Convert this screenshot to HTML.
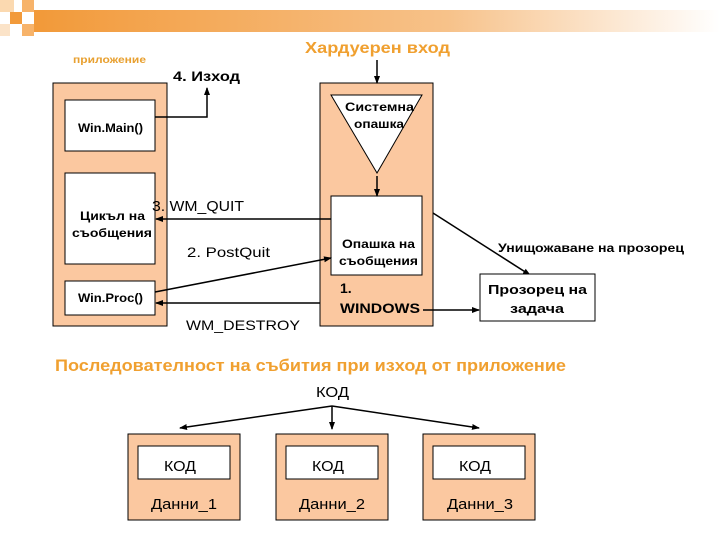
<!DOCTYPE html>
<html><head><meta charset="utf-8"><style>
body{margin:0;width:720px;height:540px;background:#fff;overflow:hidden}
text{font-family:"Liberation Sans","DejaVu Sans",sans-serif;font-weight:bold}
.n{font-weight:normal}
</style></head><body>
<svg width="720" height="540" viewBox="0 0 720 540">
<defs>
<linearGradient id="g" x1="0" x2="1"><stop offset="0" stop-color="#f29a3a"/><stop offset="0.6" stop-color="#f7c28a"/><stop offset="1" stop-color="#fff"/></linearGradient>
<marker id="a" markerWidth="8" markerHeight="8" refX="7" refY="4" orient="auto" markerUnits="userSpaceOnUse"><path d="M0,1 L8,4 L0,7 Z" fill="#000"/></marker>
</defs>
<rect x="40" y="10" width="680" height="22" fill="url(#g)"/>
<rect x="0" y="0" width="14" height="12" fill="#fbd9b0"/>
<rect x="10" y="12" width="12" height="12" fill="#f29a3a"/>
<rect x="22" y="0" width="12" height="12" fill="#f7b36a"/>
<rect x="22" y="24" width="12" height="12" fill="#f7b36a"/>
<rect x="34" y="10" width="10" height="22" fill="#f29a3a"/>
<rect x="0" y="24" width="10" height="12" fill="#fbe3c8"/>
<text x="73" y="63" font-size="10" fill="#e8a030" textLength="73" lengthAdjust="spacingAndGlyphs">приложение</text>
<text x="305" y="53" font-size="16" fill="#f0a030" textLength="145" lengthAdjust="spacingAndGlyphs">Хардуерен вход</text>
<text x="173" y="81" font-size="14" textLength="67" lengthAdjust="spacingAndGlyphs">4. Изход</text>
<rect x="53" y="83" width="114" height="243" fill="#fbc8a0" stroke="#000"/>
<rect x="320" y="83" width="113" height="243" fill="#fbc8a0" stroke="#000"/>
<rect x="65" y="100" width="90" height="51" fill="#fff" stroke="#000"/>
<rect x="65" y="173" width="90" height="91" fill="#fff" stroke="#000"/>
<rect x="65" y="281" width="90" height="34" fill="#fff" stroke="#000"/>
<text x="78" y="132" font-size="12" textLength="65" lengthAdjust="spacingAndGlyphs">Win.Main()</text>
<text x="80" y="220" font-size="12" textLength="65" lengthAdjust="spacingAndGlyphs">Цикъл на</text>
<text x="72" y="237" font-size="12" textLength="80" lengthAdjust="spacingAndGlyphs">съобщения</text>
<text x="78" y="302" font-size="12" textLength="65" lengthAdjust="spacingAndGlyphs">Win.Proc()</text>
<polygon points="331,95 422,95 377,173" fill="#fff" stroke="#000"/>
<text x="345" y="111" font-size="12" textLength="69" lengthAdjust="spacingAndGlyphs">Системна</text>
<text x="354" y="128" font-size="12" textLength="50" lengthAdjust="spacingAndGlyphs">опашка</text>
<rect x="331" y="196" width="91" height="79" fill="#fff" stroke="#000"/>
<text x="342" y="248" font-size="12" textLength="73" lengthAdjust="spacingAndGlyphs">Опашка на</text>
<text x="339" y="265" font-size="12" textLength="79" lengthAdjust="spacingAndGlyphs">съобщения</text>
<text x="340" y="293" font-size="14">1.</text>
<text x="340" y="313" font-size="14" textLength="80" lengthAdjust="spacingAndGlyphs">WINDOWS</text>
<g stroke="#000" stroke-width="1.5" fill="none">
<line x1="377" y1="60" x2="377" y2="83" marker-end="url(#a)"/>
<line x1="377" y1="176" x2="377" y2="196" marker-end="url(#a)"/>
<polyline points="155,117 207,117 207,88" marker-end="url(#a)"/>
<line x1="331" y1="219" x2="156" y2="219" marker-end="url(#a)"/>
<line x1="155" y1="292" x2="331" y2="258" marker-end="url(#a)"/>
<line x1="320" y1="303" x2="156" y2="303" marker-end="url(#a)"/>
<line x1="433" y1="213" x2="530" y2="275" marker-end="url(#a)"/>
<line x1="423" y1="310" x2="479" y2="310" marker-end="url(#a)"/>
<line x1="332" y1="406" x2="180" y2="428" marker-end="url(#a)"/>
<line x1="332" y1="406" x2="332" y2="429" marker-end="url(#a)"/>
<line x1="332" y1="406" x2="479" y2="428" marker-end="url(#a)"/>
</g>
<text class="n" x="152" y="211" font-size="15" textLength="92" lengthAdjust="spacingAndGlyphs">3. WM_QUIT</text>
<text class="n" x="187" y="257" font-size="14" textLength="83" lengthAdjust="spacingAndGlyphs">2. PostQuit</text>
<text class="n" x="186" y="330" font-size="14" textLength="114" lengthAdjust="spacingAndGlyphs">WM_DESTROY</text>
<text x="498" y="252" font-size="12" textLength="186" lengthAdjust="spacingAndGlyphs">Унищожаване на прозорец</text>
<rect x="480" y="274" width="115" height="47" fill="#fff" stroke="#000"/>
<text x="488" y="294" font-size="13" textLength="99" lengthAdjust="spacingAndGlyphs">Прозорец на</text>
<text x="510" y="313" font-size="13" textLength="54" lengthAdjust="spacingAndGlyphs">задача</text>
<text x="55" y="371" font-size="17" fill="#f0a030" textLength="511" lengthAdjust="spacingAndGlyphs">Последователност на събития при изход от приложение</text>
<text class="n" x="316" y="397" font-size="15" textLength="33" lengthAdjust="spacingAndGlyphs">КОД</text>
<g>
<rect x="128" y="434" width="112" height="86" fill="#fbc8a0" stroke="#000"/>
<rect x="138" y="446" width="92" height="33" fill="#fff" stroke="#000"/>
<text class="n" x="164" y="471" font-size="15" textLength="32" lengthAdjust="spacingAndGlyphs">КОД</text>
<text class="n" x="151" y="509" font-size="15" textLength="66" lengthAdjust="spacingAndGlyphs">Данни_1</text>
<rect x="276" y="434" width="112" height="86" fill="#fbc8a0" stroke="#000"/>
<rect x="286" y="446" width="92" height="33" fill="#fff" stroke="#000"/>
<text class="n" x="312" y="471" font-size="15" textLength="32" lengthAdjust="spacingAndGlyphs">КОД</text>
<text class="n" x="299" y="509" font-size="15" textLength="66" lengthAdjust="spacingAndGlyphs">Данни_2</text>
<rect x="423" y="434" width="112" height="86" fill="#fbc8a0" stroke="#000"/>
<rect x="433" y="446" width="92" height="33" fill="#fff" stroke="#000"/>
<text class="n" x="459" y="471" font-size="15" textLength="32" lengthAdjust="spacingAndGlyphs">КОД</text>
<text class="n" x="447" y="509" font-size="15" textLength="66" lengthAdjust="spacingAndGlyphs">Данни_3</text>
</g>
</svg>
</body></html>
